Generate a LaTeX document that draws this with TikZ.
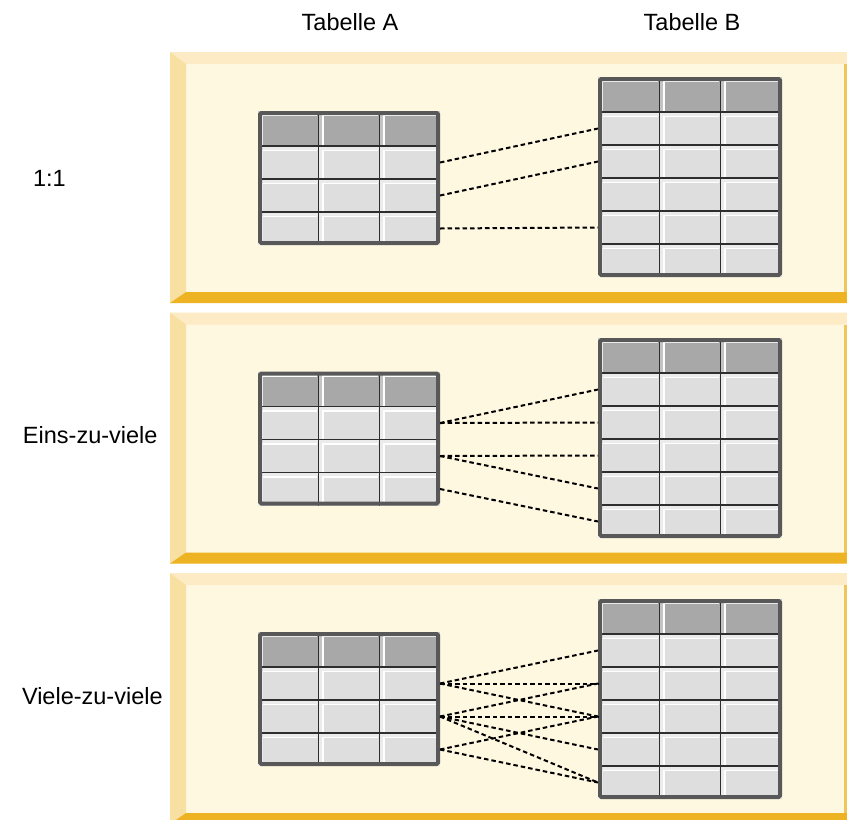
\documentclass[tikz,border=0pt]{standalone}
\usepackage{fontspec}
\setmainfont{Liberation Sans}
\definecolor{cream}{HTML}{FFF8E1}
\definecolor{bevtop}{HTML}{FCEBC4}
\definecolor{bevleft}{HTML}{F8DFA2}
\definecolor{bevright}{HTML}{F0C55A}
\definecolor{gold}{HTML}{EDB322}
\definecolor{hdr}{HTML}{A8A8A8}
\definecolor{hdrlt}{HTML}{C4C4C4}
\definecolor{bodyc}{HTML}{DEDEDE}
\definecolor{bodylt}{HTML}{EBEBEB}
\definecolor{gridc}{HTML}{2E2E2E}
\definecolor{bordc}{HTML}{585858}
\tikzset{
  lbl/.style={font=\fontsize{23.5}{28}\selectfont, inner sep=0pt, outer sep=0pt, text=black},
  link/.style={draw=black, line width=2pt, dash pattern=on 4.5pt off 3pt},
  rowbox/.style={inner sep=0pt, outer sep=0pt, minimum height=33pt},
}
\newcommand{\tabcell}[6]{%
  \pgfmathsetmacro{\cellA}{#1+4.5}%
  \pgfmathsetmacro{\cellB}{#2+4.5}%
  \pgfmathsetmacro{\cellR}{#1+#3-1.5}%
  \pgfmathsetmacro{\cellD}{#2+#4-1}%
  \fill[#5] (#1,#2) rectangle ++(#3,#4);
  \fill[#6] (#1,#2) rectangle ++(#3,3.5);
  \fill[#6] (#1,#2) rectangle ++(3.5,#4);
  \draw[white, line width=1.8pt] (\cellA,\cellD) -- (\cellA,\cellB) -- (\cellR,\cellB);
}
% name, x left, y top, body rows, width
\newcommand{\datatable}[5]{%
  \pgfmathsetmacro{\tabCW}{#5/3}%
  \pgfmathsetmacro{\tabBot}{#3+35+33*#4}%
  \foreach \cc in {0,1,2}{%
    \pgfmathsetmacro{\tabX}{#2+\cc*\tabCW}%
    \tabcell{\tabX}{#3}{\tabCW}{35}{hdr}{hdrlt}%
    \foreach \rr in {1,...,#4}{%
      \pgfmathsetmacro{\tabY}{#3+35+33*(\rr-1)}%
      \tabcell{\tabX}{\tabY}{\tabCW}{33}{bodyc}{bodylt}%
    }%
  }%
  \foreach \cc in {1,2}{%
    \pgfmathsetmacro{\tabX}{#2+\cc*\tabCW}%
    \draw[gridc, line width=1pt] (\tabX,#3) -- (\tabX,\tabBot);
  }%
  \foreach \rr in {1,...,#4}{%
    \pgfmathsetmacro{\tabY}{#3+35+33*(\rr-1)}%
    \draw[gridc, line width=1.2pt] (#2,\tabY) -- ++(#5,0);
  }%
  \pgfmathsetmacro{\tabL}{#2+2}%
  \pgfmathsetmacro{\tabT}{#3+2}%
  \pgfmathsetmacro{\tabR}{#2+#5-2}%
  \pgfmathsetmacro{\tabBB}{\tabBot-2}%
  \draw[bordc, line width=4pt, rounded corners=1.5pt] (\tabL,\tabT) rectangle (\tabR,\tabBB);
  \foreach \rr in {1,...,#4}{%
    \pgfmathsetmacro{\tabY}{#3+35+33*(\rr-1)+16.5}%
    \node[rowbox, minimum width=#5pt] (#1-\rr) at (#2+#5/2,\tabY) {};
  }%
}
\newcommand{\bgpanel}[1]{%
  \pgfmathsetmacro{\pnT}{#1}%
  \pgfmathsetmacro{\pnI}{#1+12}%
  \pgfmathsetmacro{\pnJ}{#1+240}%
  \pgfmathsetmacro{\pnE}{#1+251}%
  \fill[cream] (170,\pnT) rectangle (847,\pnE);
  \fill[bevtop] (170,\pnT) -- (847,\pnT) -- (847,\pnI) -- (186,\pnI) -- cycle;
  \fill[bevleft] (170,\pnT) -- (186,\pnI) -- (186,\pnJ) -- (170,\pnE) -- cycle;
  \fill[bevright] (844,\pnI) rectangle (847,\pnJ);
  \fill[gold] (170,\pnE) -- (186,\pnJ) -- (847,\pnJ) -- (847,\pnE) -- cycle;
}
\begin{document}
\begin{tikzpicture}[x=1pt, y=-1pt]
\useasboundingbox (0,0) rectangle (847,820);
\clip (0,0) rectangle (847,820);
\fill[white] (0,0) rectangle (847,820);

% headings
\node[lbl, anchor=base] (ta) at (350,30) {Tabelle A};
\node[lbl, anchor=base] (tb) at (692,30) {Tabelle B};

% panels
\bgpanel{52}
\bgpanel{312.5}
\bgpanel{573}

% row labels
\node[lbl, anchor=base west] (l1) at (33,186) {1:1};
\node[lbl, anchor=base west] (l2) at (23,443) {Eins-zu-viele};
\node[lbl, anchor=base west] (l3) at (22,704) {Viele-zu-viele};

% tables
\datatable{aa}{258}{111}{3}{182}
\datatable{ab}{598}{77}{5}{184}
\datatable{ba}{258}{371.5}{3}{182}
\datatable{bb}{598}{338}{5}{184}
\datatable{ca}{258}{632}{3}{182}
\datatable{cb}{598}{599}{5}{184}

% 1:1
\draw[link] (aa-1.east) -- (ab-1.west);
\draw[link] (aa-2.east) -- (ab-2.west);
\draw[link] (aa-3.east) -- (ab-4.west);

% Eins-zu-viele
\draw[link] (ba-1.east) -- (bb-1.west);
\draw[link] (ba-1.east) -- (bb-2.west);
\draw[link] (ba-2.east) -- (bb-3.west);
\draw[link] (ba-2.east) -- (bb-4.west);
\draw[link] (ba-3.east) -- (bb-5.west);

% Viele-zu-viele
\draw[link] (ca-1.east) -- (cb-1.west);
\draw[link] (ca-1.east) -- (cb-2.west);
\draw[link] (ca-1.east) -- (cb-3.west);
\draw[link] (ca-2.east) -- (cb-2.west);
\draw[link] (ca-2.east) -- (cb-3.west);
\draw[link] (ca-2.east) -- (cb-4.west);
\draw[link] (ca-2.east) -- (cb-5.west);
\draw[link] (ca-3.east) -- (cb-3.west);
\draw[link] (ca-3.east) -- (cb-5.west);
\end{tikzpicture}
\end{document}
